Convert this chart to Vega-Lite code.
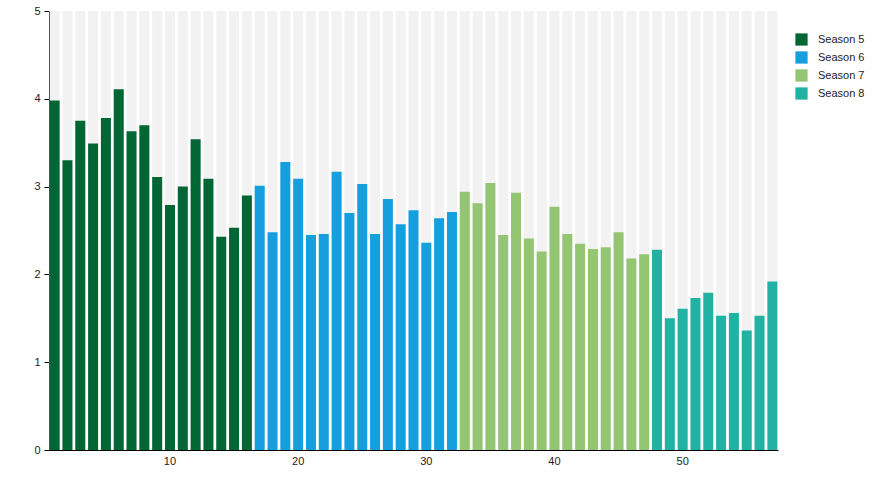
{
  "$schema": "https://vega.github.io/schema/vega-lite/v6.json",
  "description": "Episode ratings by season, bars against a grey 0-5 backdrop.",
  "autosize": "none",
  "padding": {"left": 49, "top": 11, "right": 98, "bottom": 50},
  "width": 729,
  "height": 439,
  "background": "white",
  "config": {
    "view": {"stroke": null},
    "font": "Liberation Sans",
    "axis": {"labelFont": "Liberation Sans", "labelFontSize": 11, "labelColor": "#222", "domainColor": "#000", "tickColor": "#000", "grid": false, "title": null},
    "legend": {"labelFont": "Liberation Sans", "labelFontSize": 11, "labelColor": "#222"}
  },
  "data": {
    "values": [
      {"episode": 1, "season": "Season 5", "rating": 3.98},
      {"episode": 2, "season": "Season 5", "rating": 3.30},
      {"episode": 3, "season": "Season 5", "rating": 3.75},
      {"episode": 4, "season": "Season 5", "rating": 3.49},
      {"episode": 5, "season": "Season 5", "rating": 3.78},
      {"episode": 6, "season": "Season 5", "rating": 4.11},
      {"episode": 7, "season": "Season 5", "rating": 3.63},
      {"episode": 8, "season": "Season 5", "rating": 3.70},
      {"episode": 9, "season": "Season 5", "rating": 3.11},
      {"episode": 10, "season": "Season 5", "rating": 2.79},
      {"episode": 11, "season": "Season 5", "rating": 3.00},
      {"episode": 12, "season": "Season 5", "rating": 3.54},
      {"episode": 13, "season": "Season 5", "rating": 3.09},
      {"episode": 14, "season": "Season 5", "rating": 2.43},
      {"episode": 15, "season": "Season 5", "rating": 2.53},
      {"episode": 16, "season": "Season 5", "rating": 2.90},
      {"episode": 17, "season": "Season 6", "rating": 3.01},
      {"episode": 18, "season": "Season 6", "rating": 2.48},
      {"episode": 19, "season": "Season 6", "rating": 3.28},
      {"episode": 20, "season": "Season 6", "rating": 3.09},
      {"episode": 21, "season": "Season 6", "rating": 2.45},
      {"episode": 22, "season": "Season 6", "rating": 2.46},
      {"episode": 23, "season": "Season 6", "rating": 3.17},
      {"episode": 24, "season": "Season 6", "rating": 2.70},
      {"episode": 25, "season": "Season 6", "rating": 3.03},
      {"episode": 26, "season": "Season 6", "rating": 2.46},
      {"episode": 27, "season": "Season 6", "rating": 2.86},
      {"episode": 28, "season": "Season 6", "rating": 2.57},
      {"episode": 29, "season": "Season 6", "rating": 2.73},
      {"episode": 30, "season": "Season 6", "rating": 2.36},
      {"episode": 31, "season": "Season 6", "rating": 2.64},
      {"episode": 32, "season": "Season 6", "rating": 2.71},
      {"episode": 33, "season": "Season 7", "rating": 2.94},
      {"episode": 34, "season": "Season 7", "rating": 2.81},
      {"episode": 35, "season": "Season 7", "rating": 3.04},
      {"episode": 36, "season": "Season 7", "rating": 2.45},
      {"episode": 37, "season": "Season 7", "rating": 2.93},
      {"episode": 38, "season": "Season 7", "rating": 2.41},
      {"episode": 39, "season": "Season 7", "rating": 2.26},
      {"episode": 40, "season": "Season 7", "rating": 2.77},
      {"episode": 41, "season": "Season 7", "rating": 2.46},
      {"episode": 42, "season": "Season 7", "rating": 2.35},
      {"episode": 43, "season": "Season 7", "rating": 2.29},
      {"episode": 44, "season": "Season 7", "rating": 2.31},
      {"episode": 45, "season": "Season 7", "rating": 2.48},
      {"episode": 46, "season": "Season 7", "rating": 2.18},
      {"episode": 47, "season": "Season 7", "rating": 2.23},
      {"episode": 48, "season": "Season 8", "rating": 2.28},
      {"episode": 49, "season": "Season 8", "rating": 1.50},
      {"episode": 50, "season": "Season 8", "rating": 1.61},
      {"episode": 51, "season": "Season 8", "rating": 1.73},
      {"episode": 52, "season": "Season 8", "rating": 1.79},
      {"episode": 53, "season": "Season 8", "rating": 1.53},
      {"episode": 54, "season": "Season 8", "rating": 1.56},
      {"episode": 55, "season": "Season 8", "rating": 1.36},
      {"episode": 56, "season": "Season 8", "rating": 1.53},
      {"episode": 57, "season": "Season 8", "rating": 1.92}
    ]
  },
  "encoding": {
    "x": {
      "field": "episode",
      "type": "ordinal",
      "scale": {"paddingInner": 0.22, "paddingOuter": 0.05},
      "axis": {"values": [10, 20, 30, 40, 50], "labelAngle": 0, "ticks": false, "labelPadding": 5}
    }
  },
  "layer": [
    {
      "mark": {"type": "bar", "color": "#f2f2f2"},
      "encoding": {
        "y": {"datum": 5, "type": "quantitative", "scale": {"domain": [0, 5]}}
      }
    },
    {
      "mark": {"type": "bar"},
      "encoding": {
        "y": {
          "field": "rating",
          "type": "quantitative",
          "scale": {"domain": [0, 5]},
          "axis": {"values": [0, 1, 2, 3, 4, 5], "format": "d", "tickSize": 5, "labelPadding": 4}
        },
        "color": {
          "field": "season",
          "type": "nominal",
          "scale": {
            "domain": ["Season 5", "Season 6", "Season 7", "Season 8"],
            "range": ["#006633", "#159fdf", "#93c572", "#22b2a4"]
          },
          "legend": {"title": null, "orient": "none", "legendX": 746, "legendY": 22, "symbolType": "square", "symbolSize": 150, "symbolStrokeWidth": 0, "rowPadding": 5, "labelOffset": 10}
        }
      }
    }
  ]
}
